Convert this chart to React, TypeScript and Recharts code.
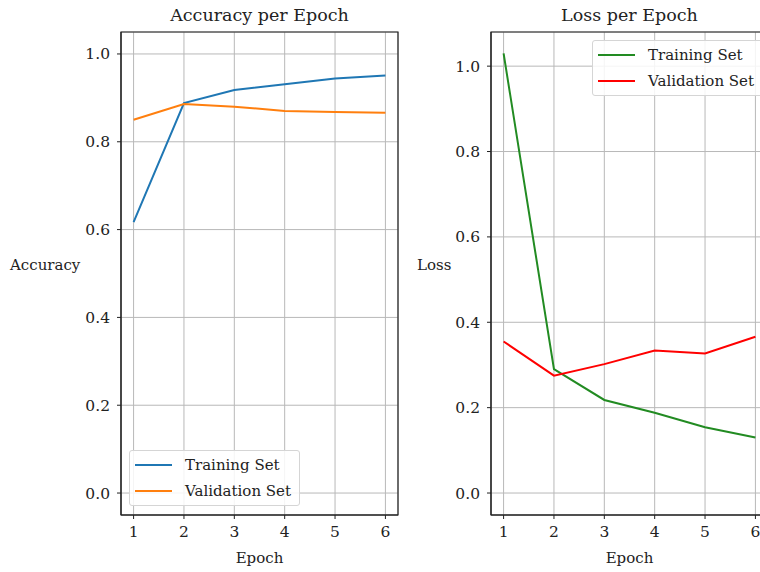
import React from "react";
import {
  LineChart,
  Line,
  XAxis,
  YAxis,
  CartesianGrid,
  Legend,
  ReferenceArea,
} from "recharts";

// epochs and the values
const epochs = [1, 2, 3, 4, 5, 6];
const trainAcc = [0.617, 0.888, 0.918, 0.931, 0.944, 0.951];
const valAcc = [0.85, 0.886, 0.88, 0.87, 0.868, 0.866];
const trainLoss = [1.03, 0.29, 0.218, 0.188, 0.154, 0.13];
const valLoss = [0.355, 0.275, 0.302, 0.334, 0.327, 0.366];
const yTicks = [0, 0.2, 0.4, 0.6, 0.8, 1.0];

const accData = epochs.map((e, i) => ({ epoch: e, train: trainAcc[i], val: valAcc[i] }));
const lossData = epochs.map((e, i) => ({ epoch: e, train: trainLoss[i], val: valLoss[i] }));

const FONT = "'DejaVu Serif', serif";
const tickStyle = { fontSize: 15.5, fill: "#222", fontFamily: FONT };

const LegendBox = ({ payload }: any) => (
  <div
    style={{
      border: "1px solid #d5d5d5",
      borderRadius: 3,
      background: "rgba(255,255,255,0.85)",
      padding: "1px 8px 1px 5px",
      fontFamily: FONT,
      fontSize: 15,
      color: "#222",
    }}
  >
    {(payload || []).map((p: any) => (
      <div key={p.value} style={{ display: "flex", alignItems: "center", height: 26 }}>
        <span style={{ display: "inline-block", width: 37, height: 2, background: p.color, marginRight: 13 }} />
        <span>{p.value}</span>
      </div>
    ))}
  </div>
);

const label = (text: string, left: number, top: number, size = 15, width?: number) => (
  <div
    style={{
      position: "absolute",
      left,
      top,
      width,
      textAlign: width ? "center" : "left",
      fontFamily: FONT,
      fontSize: size,
      color: "#222",
      whiteSpace: "nowrap",
      lineHeight: "20px",
    }}
  >
    {text}
  </div>
);

type PanelProps = {
  data: any[];
  yDomain: [number, number];
  trainColor: string;
  valColor: string;
  legendPos: { left: number; top: number };
};

const Panel = ({ data, yDomain, trainColor, valColor, legendPos }: PanelProps) => (
  <LineChart width={400} height={572} data={data} margin={{ top: 32, right: 2, bottom: 0, left: 0 }}>
    <CartesianGrid stroke="#b8b8b8" strokeWidth={1} />
    <XAxis
      dataKey="epoch"
      type="number"
      domain={[0.75, 6.25]}
      ticks={epochs}
      allowDataOverflow
      height={57}
      tick={tickStyle}
      tickSize={4}
      tickMargin={7}
      tickLine={{ stroke: "#222" }}
      axisLine={{ stroke: "#222" }}
    />
    <YAxis
      type="number"
      domain={yDomain}
      ticks={yTicks}
      allowDataOverflow
      width={121}
      tick={tickStyle}
      tickSize={4}
      tickMargin={7}
      tickFormatter={(v: number) => v.toFixed(1)}
      tickLine={{ stroke: "#222" }}
      axisLine={{ stroke: "#222" }}
    />
    <Line dataKey="train" name="Training Set" stroke={trainColor} strokeWidth={2} dot={false} isAnimationActive={false} />
    <Line dataKey="val" name="Validation Set" stroke={valColor} strokeWidth={2} dot={false} isAnimationActive={false} />
    <ReferenceArea x1={0.75} x2={6.25} y1={yDomain[0]} y2={yDomain[1]} fill="none" stroke="#222" strokeWidth={1.2} />
    <Legend
      layout="horizontal"
      verticalAlign="middle"
      align="center"
      content={<LegendBox />}
      wrapperStyle={{ left: legendPos.left, top: legendPos.top, width: "auto" }}
    />
  </LineChart>
);

export default function App() {
  return (
    <div style={{ position: "fixed", left: 0, top: 0, width: 760, height: 572, overflow: "hidden", background: "#fff" }}>
      {label("Accuracy per Epoch", 121, 5, 17.5, 277)}
      {label("Loss per Epoch", 491, 5, 17.5, 277)}
      {label("Accuracy", 10, 255)}
      {label("Loss", 417, 255)}
      {label("Epoch", 121, 548, 15, 277)}
      {label("Epoch", 491, 548, 15, 277)}
      <div style={{ position: "absolute", left: 0, top: 0 }}>
        <Panel data={accData} yDomain={[-0.05, 1.05]} trainColor="#1f77b4" valColor="#ff7f0e" legendPos={{ left: 129, top: 450 }} />
      </div>
      <div style={{ position: "absolute", left: 370, top: 0 }}>
        <Panel data={lossData} yDomain={[-0.0515, 1.08]} trainColor="#228b22" valColor="#ff0000" legendPos={{ left: 222, top: 40 }} />
      </div>
    </div>
  );
}
